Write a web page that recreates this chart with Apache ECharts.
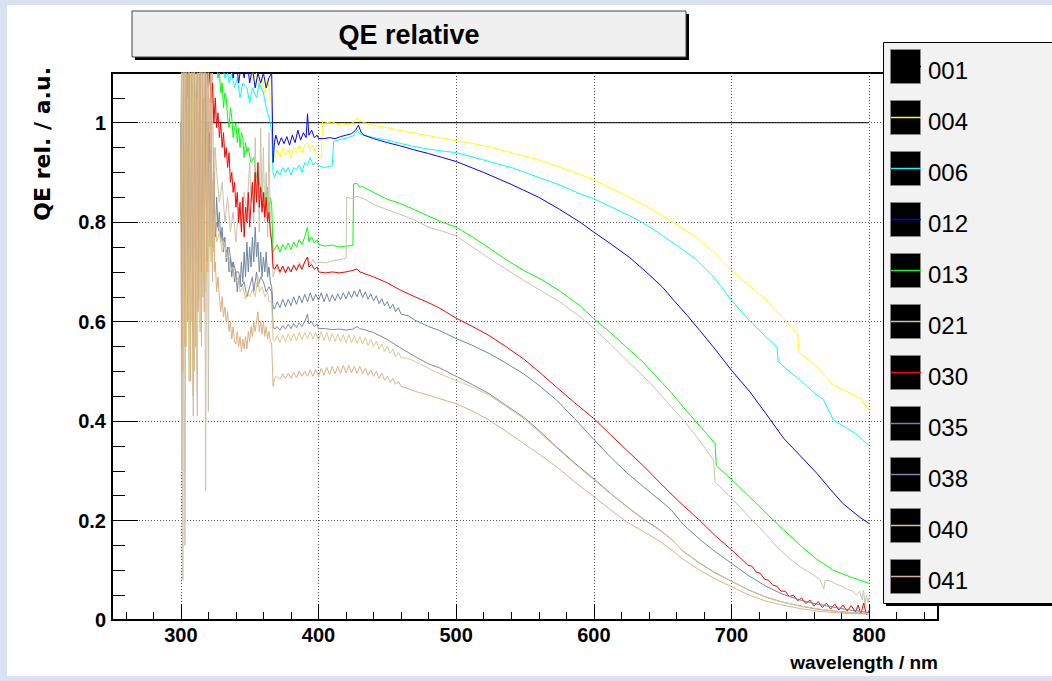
<!DOCTYPE html>
<html><head><meta charset="utf-8">
<script src="https://cdn.jsdelivr.net/npm/echarts@6/dist/echarts.min.js"></script>
<style>html,body{margin:0;padding:0;background:#fff}#c{width:1052px;height:681px}</style>
</head><body><div id="c"></div>
<script>
const FONT = "'Liberation Sans', Arial, sans-serif";
const titleText = 'QE relative';
const xAxisTitle = 'wavelength / nm';
const yAxisTitle = 'QE rel. / a.u.';
const seriesNames = ['001','004','006','012','013','021','030','035','038','040','041'];
const seriesColors = ['#000000','#ffff00','#00ffff','#0000ff','#00ff00','#c9c3ad','#ff0000','#6d86a0','#8483a6','#d4cb8e','#ddb083'];
const xMajorTicks = [300,400,500,600,700,800];
const xMinorTicks = [260,280,320,340,360,380,420,440,460,480,520,540,560,580,620,640,660,680,720,740,760,780,820,840];
const yMajorTicks = [0,0.2,0.4,0.6,0.8,1.0];
const yTickLabels = ['0','0.2','0.4','0.6','0.8','1'];
const yMinorTicks = [0.05,0.1,0.15,0.25,0.3,0.35,0.45,0.5,0.55,0.65,0.7,0.75,0.85,0.9,0.95,1.05];

const s001 = [[300,1],[800,1]];
const s004 = [[300,1.3],[303,1.2],[306,1.4],[309,1.25],[312,1.5],[315,1.3],[318,1.35],[321,1.2],[324,1.3],[327,1.18],[330,1.25],[333,1.15],[336,1.2],[339,1.14],[342,1.18],[345,1.12],[348,1.16],[351,1.12],[353,1.09],[355,1.1],[357,1.07],[359,1.09],[361,1.06],[363,1.09],[365,1.05],[366,1.04],[367,0.94],[368,0.93],[370,0.945],[372,0.93],[374,0.95],[376,0.935],[378,0.945],[380,0.93],[382,0.95],[384,0.94],[386,0.955],[388,0.94],[390,0.955],[392,0.96],[394,0.945],[396,0.955],[398,0.94],[400,0.935],[402,0.93],[403,1.004],[406,1.0],[410,1.002],[414,0.996],[418,0.998],[422,0.995],[426,1.002],[428,1.01],[430,1.005],[433,1.0],[440,0.995],[450,0.99],[460,0.984],[470,0.979],[480,0.974],[490,0.969],[500,0.964],[520,0.954],[540,0.94],[560,0.925],[575,0.911],[590,0.896],[600,0.885],[613,0.868],[626,0.85],[638,0.832],[650,0.813],[662,0.792],[674,0.77],[687,0.74],[700,0.703],[712,0.675],[723,0.649],[735,0.614],[745,0.585],[748,0.576],[749,0.54],[750,0.536],[756,0.523],[762,0.509],[768,0.49],[774,0.472],[780,0.464],[786,0.456],[790,0.45],[792,0.446],[794,0.448],[796,0.436],[800,0.422]];
const s006 = [[300,1.4],[303,1.3],[306,1.5],[309,1.3],[312,1.4],[315,1.25],[318,1.3],[321,1.2],[324,1.25],[327,1.15],[330,1.12],[332,1.09],[334,1.1],[335,1.08],[337,1.1],[339,1.07],[341,1.09],[343,1.05],[345,1.08],[348,1.07],[350,1.04],[352,1.07],[355,1.05],[357,1.08],[360,1.06],[362,1.03],[363,1.02],[365,1.0],[366,0.98],[367,0.9],[368,0.89],[370,0.905],[372,0.895],[374,0.91],[376,0.9],[378,0.91],[380,0.895],[382,0.91],[384,0.905],[386,0.915],[388,0.9],[390,0.92],[392,0.915],[394,0.93],[396,0.915],[398,0.92],[400,0.914],[404,0.91],[408,0.912],[410,0.914],[411,0.962],[414,0.965],[418,0.968],[422,0.97],[426,0.975],[428,0.985],[430,0.978],[433,0.975],[440,0.97],[450,0.965],[460,0.958],[470,0.952],[480,0.947],[490,0.943],[500,0.94],[520,0.925],[540,0.91],[560,0.89],[575,0.875],[590,0.857],[600,0.847],[613,0.83],[626,0.813],[638,0.795],[650,0.773],[662,0.75],[674,0.726],[687,0.69],[700,0.643],[713,0.602],[723,0.575],[733,0.549],[734,0.519],[742,0.5],[750,0.482],[758,0.462],[767,0.442],[770,0.425],[774,0.402],[780,0.392],[786,0.382],[790,0.375],[793,0.368],[796,0.36],[800,0.351]];
const s012 = [[300,1.5],[304,1.35],[308,1.5],[312,1.3],[316,1.45],[320,1.3],[324,1.4],[328,1.25],[332,1.2],[334,1.1],[336,1.15],[338,1.09],[340,1.13],[342,1.08],[344,1.12],[346,1.09],[348,1.13],[350,1.08],[352,1.11],[354,1.07],[356,1.1],[358,1.08],[360,1.1],[362,1.07],[364,1.09],[366,1.1],[366.5,1.1],[367,0.92],[368,0.96],[369,0.975],[371,0.955],[373,0.97],[375,0.958],[377,0.972],[379,0.955],[381,0.975],[383,0.96],[385,0.985],[387,0.965],[389,0.98],[391,0.97],[392,1.018],[393,0.975],[395,0.985],[397,0.97],[399,0.975],[400,0.968],[404,0.968],[408,0.97],[412,0.968],[416,0.972],[420,0.975],[424,0.978],[427,0.985],[429,0.995],[431,0.98],[433,0.975],[440,0.968],[450,0.96],[460,0.953],[470,0.945],[480,0.938],[490,0.93],[500,0.922],[520,0.9],[540,0.876],[560,0.85],[575,0.826],[590,0.8],[600,0.78],[613,0.755],[626,0.729],[638,0.7],[650,0.669],[658,0.643],[668,0.612],[677,0.582],[688,0.545],[700,0.502],[713,0.46],[725,0.415],[738,0.365],[750,0.33],[762,0.295],[772,0.262],[781,0.234],[793,0.207],[800,0.194]];
const s013 = [[300,1.4],[303,1.25],[306,1.45],[309,1.2],[312,1.35],[315,1.15],[318,1.3],[321,1.14],[324,1.2],[326,1.12],[327,1.09],[328,1.1],[329,1.06],[330,1.08],[331,1.03],[332,1.06],[333,1.05],[334,1.01],[335,0.99],[336,1.03],[337,1.01],[338,0.97],[339,0.99],[340,1.0],[341,0.96],[342,0.99],[343,0.95],[344,0.98],[345,0.97],[346,0.93],[347,0.96],[348,0.94],[349,0.95],[351,0.92],[353,0.93],[355,0.89],[357,0.88],[359,0.86],[360,0.83],[361,0.86],[362,0.84],[363,0.87],[364,0.82],[365,0.85],[366,0.835],[367,0.74],[368,0.745],[370,0.755],[372,0.74],[374,0.755],[376,0.745],[378,0.758],[380,0.745],[382,0.76],[384,0.75],[386,0.765],[388,0.755],[390,0.77],[392,0.79],[393,0.76],[395,0.77],[397,0.758],[399,0.765],[400,0.755],[405,0.752],[410,0.754],[415,0.75],[420,0.752],[425,0.753],[425.5,0.877],[428,0.878],[430,0.87],[432,0.872],[433,0.87],[440,0.86],[450,0.846],[459,0.838],[470,0.825],[480,0.812],[490,0.8],[500,0.79],[512,0.77],[524,0.748],[536,0.725],[549,0.703],[563,0.683],[575,0.662],[590,0.632],[600,0.606],[612,0.578],[624,0.548],[636,0.518],[641,0.502],[648,0.482],[656,0.458],[665,0.428],[677,0.39],[688,0.355],[689,0.31],[700,0.283],[713,0.248],[725,0.215],[738,0.181],[750,0.15],[762,0.122],[774,0.1],[786,0.087],[793,0.08],[800,0.074]];
const s021 = [[300,0.95],[300.5,0.3],[301,0.85],[301.5,0.08],[302,1.2],[302.5,0.45],[303,0.15],[304,1.1],[305,0.6],[306,1.2],[307,0.7],[308,1.15],[309,0.41],[310,1.2],[311,0.6],[312,0.41],[313,1.1],[314,0.7],[315,1.2],[316,0.65],[317,1.15],[318,0.26],[319,1.1],[320,0.42],[321,1.05],[322,0.75],[323,1.1],[324,0.8],[325,0.95],[326,0.9],[328,0.84],[330,0.88],[332,0.8],[334,0.85],[336,0.78],[338,0.82],[340,0.76],[342,0.83],[344,0.79],[346,0.86],[348,0.82],[350,0.92],[351,0.84],[352,0.88],[353,0.8],[354,0.97],[355,0.85],[356,0.9],[357,0.78],[358,0.99],[359,0.83],[360,0.95],[361,0.8],[362,0.9],[363,0.77],[364,0.98],[365,0.8],[366,0.76],[367,0.69],[368,0.7],[370,0.71],[372,0.695],[374,0.71],[376,0.7],[378,0.712],[380,0.7],[382,0.715],[384,0.705],[386,0.72],[388,0.71],[390,0.72],[392,0.73],[394,0.715],[396,0.725],[398,0.715],[400,0.72],[405,0.718],[410,0.722],[415,0.725],[420,0.727],[420.5,0.85],[424,0.848],[428,0.852],[433,0.847],[440,0.836],[450,0.825],[459,0.816],[470,0.804],[480,0.79],[490,0.782],[500,0.772],[512,0.75],[524,0.727],[536,0.706],[549,0.683],[563,0.66],[575,0.64],[590,0.61],[600,0.586],[612,0.555],[624,0.522],[636,0.49],[641,0.476],[648,0.455],[656,0.43],[665,0.402],[677,0.36],[687,0.321],[688,0.278],[700,0.245],[713,0.207],[725,0.172],[733,0.147],[741,0.126],[750,0.107],[755,0.098],[760,0.09],[764,0.082],[766,0.07],[767,0.062],[768,0.08],[772,0.078],[776,0.072],[780,0.068],[784,0.062],[788,0.058],[791,0.05],[793,0.058],[795,0.04],[796,0.06],[797,0.03],[798,0.05],[799,0.035],[800,0.045]];
const s030 = [[300,1.3],[302,1.15],[304,1.4],[306,1.2],[308,1.35],[310,1.12],[312,1.3],[314,1.15],[316,1.25],[318,1.1],[319,1.15],[320,1.07],[321,1.1],[322,1.04],[323,1.08],[324,1.0],[325,1.05],[326,0.99],[327,1.02],[328,0.97],[329,1.0],[330,0.95],[331,0.98],[332,0.93],[333,0.95],[334,0.91],[335,0.94],[336,0.88],[337,0.9],[338,0.86],[339,0.88],[340,0.83],[341,0.86],[342,0.8],[343,0.84],[344,0.78],[345,0.85],[346,0.77],[347,0.83],[348,0.8],[349,0.86],[350,0.79],[351,0.84],[352,0.88],[353,0.82],[354,0.9],[355,0.84],[356,0.92],[357,0.83],[358,0.87],[359,0.82],[360,0.86],[361,0.81],[362,0.85],[363,0.8],[364,0.82],[365,0.78],[366,0.76],[367,0.71],[368,0.705],[370,0.715],[372,0.7],[374,0.712],[376,0.698],[378,0.71],[380,0.7],[382,0.713],[384,0.703],[386,0.715],[388,0.705],[390,0.72],[392,0.73],[393,0.71],[395,0.715],[397,0.705],[399,0.71],[400,0.7],[405,0.698],[410,0.7],[415,0.698],[420,0.7],[425,0.703],[428,0.706],[430,0.7],[433,0.697],[440,0.69],[450,0.678],[459,0.664],[470,0.65],[480,0.638],[488,0.627],[500,0.607],[512,0.59],[524,0.572],[536,0.55],[549,0.525],[561,0.497],[573,0.468],[586,0.437],[600,0.405],[612,0.373],[624,0.341],[636,0.31],[648,0.276],[656,0.254],[665,0.23],[677,0.2],[688,0.17],[700,0.141],[706,0.126],[712,0.11],[715,0.108],[718,0.096],[721,0.094],[724,0.082],[727,0.08],[730,0.07],[733,0.068],[736,0.058],[739,0.058],[742,0.047],[745,0.05],[748,0.039],[751,0.044],[754,0.033],[757,0.04],[760,0.028],[763,0.037],[766,0.025],[769,0.034],[772,0.022],[775,0.032],[778,0.02],[781,0.03],[784,0.018],[787,0.029],[790,0.016],[792,0.03],[794,0.012],[796,0.034],[798,0.01],[800,0.02]];
const s035 = [[300,1.0],[300.5,0.75],[301,0.6],[301.5,0.95],[302,1.2],[302.5,0.85],[303,0.7],[303.5,1.05],[304,1.1],[304.5,0.78],[305,0.65],[305.5,1.0],[306,1.2],[306.5,0.9],[307,0.75],[307.5,1.1],[308,1.05],[308.5,0.7],[309,0.6],[309.5,0.95],[310,1.15],[310.5,0.88],[311,0.8],[311.5,1.05],[312,1.1],[312.5,0.8],[313,0.7],[313.5,1.0],[314,1.2],[314.5,0.9],[315,0.75],[315.5,0.98],[316,1.05],[316.5,0.85],[317,0.8],[317.5,1.0],[318,1.1],[318.5,0.85],[319,0.78],[319.5,0.92],[320,1.0],[320.5,0.86],[321,0.82],[321.5,0.9],[322,0.95],[322.5,0.84],[323,0.8],[323.5,0.88],[324,0.9],[324.5,0.8],[325,0.78],[326,0.85],[327,0.79],[328,0.82],[329,0.76],[330,0.79],[331,0.74],[332,0.77],[333,0.72],[334,0.75],[335,0.7],[336,0.73],[337,0.69],[338,0.72],[339,0.68],[340,0.7],[341,0.66],[342,0.69],[343,0.67],[344,0.72],[345,0.68],[346,0.74],[347,0.69],[348,0.76],[349,0.7],[350,0.75],[351,0.71],[352,0.77],[353,0.72],[354,0.79],[355,0.73],[356,0.76],[357,0.7],[358,0.74],[359,0.69],[360,0.73],[361,0.7],[362,0.74],[363,0.69],[364,0.71],[365,0.68],[366,0.67],[367,0.63],[368,0.625],[370,0.64],[372,0.628],[374,0.645],[376,0.63],[378,0.645],[380,0.632],[382,0.65],[384,0.635],[386,0.652],[388,0.638],[390,0.655],[392,0.64],[394,0.658],[396,0.642],[398,0.655],[400,0.643],[402,0.658],[404,0.64],[406,0.656],[408,0.64],[410,0.654],[412,0.642],[414,0.656],[416,0.644],[418,0.658],[420,0.646],[422,0.66],[424,0.648],[426,0.662],[428,0.65],[430,0.665],[432,0.648],[434,0.66],[436,0.645],[438,0.656],[440,0.642],[442,0.652],[444,0.636],[446,0.646],[448,0.632],[450,0.64],[452,0.626],[454,0.635],[456,0.62],[458,0.628],[460,0.615],[465,0.612],[470,0.603],[480,0.59],[488,0.582],[500,0.566],[512,0.552],[524,0.536],[536,0.517],[549,0.495],[561,0.47],[573,0.442],[586,0.405],[600,0.363],[612,0.328],[624,0.296],[636,0.268],[648,0.241],[656,0.222],[665,0.192],[677,0.162],[688,0.138],[700,0.114],[712,0.09],[725,0.068],[737,0.052],[750,0.04],[762,0.032],[774,0.026],[786,0.02],[800,0.015]];
const s038 = [[300,0.9],[300.5,1.1],[301,0.55],[301.5,0.8],[302,1.15],[302.5,0.9],[303,0.65],[303.5,0.85],[304,1.0],[304.5,1.12],[305,0.6],[305.5,0.82],[306,1.1],[306.5,0.95],[307,0.7],[307.5,0.88],[308,0.95],[308.5,1.08],[309,0.58],[309.5,0.8],[310,1.05],[310.5,0.9],[311,0.72],[311.5,0.86],[312,1.0],[312.5,1.1],[313,0.65],[313.5,0.82],[314,1.1],[314.5,0.92],[315,0.7],[315.5,0.85],[316,0.98],[316.5,1.05],[317,0.75],[317.5,0.86],[318,1.0],[318.5,0.9],[319,0.72],[319.5,0.84],[320,0.92],[320.5,0.98],[321,0.76],[321.5,0.84],[322,0.9],[322.5,0.86],[323,0.75],[323.5,0.8],[324,0.85],[324.5,0.82],[325,0.77],[326,0.8],[328,0.78],[330,0.77],[332,0.76],[333,0.74],[335,0.75],[337,0.71],[338,0.72],[340,0.7],[342,0.7],[344,0.67],[346,0.68],[348,0.65],[350,0.67],[352,0.69],[353,0.66],[355,0.7],[356,0.67],[358,0.69],[360,0.68],[362,0.66],[364,0.67],[366,0.66],[367,0.59],[368,0.585],[370,0.59],[372,0.583],[374,0.592],[376,0.585],[378,0.595],[380,0.586],[382,0.596],[384,0.588],[386,0.598],[388,0.59],[390,0.6],[392,0.615],[393,0.595],[395,0.6],[397,0.59],[399,0.595],[400,0.586],[405,0.586],[410,0.584],[415,0.585],[420,0.583],[425,0.585],[428,0.59],[430,0.586],[433,0.584],[440,0.578],[450,0.564],[459,0.548],[470,0.53],[480,0.515],[488,0.507],[500,0.49],[512,0.473],[524,0.455],[536,0.432],[549,0.408],[561,0.379],[573,0.348],[586,0.316],[600,0.284],[612,0.255],[624,0.228],[636,0.203],[648,0.181],[656,0.163],[665,0.138],[677,0.114],[688,0.095],[700,0.078],[712,0.061],[725,0.046],[737,0.036],[750,0.028],[762,0.022],[774,0.018],[786,0.015],[800,0.013]];
const s040 = [[300,0.8],[300.5,1.15],[301,1.1],[301.5,0.65],[302,0.5],[302.5,0.9],[303,1.2],[303.5,0.75],[304,0.55],[304.5,1.0],[305,1.05],[305.5,0.62],[306,0.48],[306.5,0.85],[307,1.1],[307.5,0.7],[308,0.6],[308.5,1.05],[309,1.15],[309.5,0.66],[310,0.5],[310.5,0.9],[311,1.05],[311.5,0.72],[312,0.62],[312.5,1.0],[313,1.1],[313.5,0.7],[314,0.58],[314.5,0.92],[315,1.0],[315.5,0.75],[316,0.68],[316.5,0.98],[317,1.05],[317.5,0.72],[318,0.66],[318.5,0.9],[319,0.98],[319.5,0.74],[320,0.7],[320.5,0.88],[321,0.92],[321.5,0.75],[322,0.72],[322.5,0.85],[323,0.88],[323.5,0.76],[324,0.74],[324.5,0.8],[325,0.82],[326,0.76],[328,0.78],[330,0.74],[332,0.76],[333,0.73],[335,0.72],[336,0.7],[338,0.71],[340,0.68],[342,0.69],[343,0.66],[345,0.67],[347,0.645],[348,0.66],[350,0.65],[352,0.665],[354,0.65],[356,0.69],[357,0.66],[359,0.67],[361,0.65],[363,0.66],[364,0.64],[366,0.64],[367,0.565],[368,0.56],[370,0.572],[372,0.558],[374,0.573],[376,0.56],[378,0.575],[380,0.562],[382,0.576],[384,0.562],[386,0.578],[388,0.564],[390,0.578],[392,0.566],[394,0.58],[396,0.565],[398,0.578],[400,0.562],[402,0.58],[404,0.562],[406,0.578],[408,0.56],[410,0.576],[412,0.56],[414,0.575],[416,0.56],[418,0.574],[420,0.558],[422,0.574],[424,0.558],[426,0.572],[428,0.556],[430,0.57],[432,0.555],[434,0.568],[436,0.552],[438,0.565],[440,0.55],[442,0.56],[444,0.545],[446,0.555],[448,0.54],[450,0.55],[452,0.536],[454,0.545],[456,0.53],[458,0.538],[460,0.528],[465,0.526],[470,0.52],[480,0.506],[488,0.495],[500,0.482],[512,0.468],[524,0.452],[536,0.43],[549,0.405],[561,0.376],[573,0.346],[586,0.314],[600,0.282],[612,0.254],[624,0.227],[636,0.202],[648,0.18],[656,0.164],[665,0.137],[677,0.115],[688,0.096],[700,0.078],[712,0.061],[725,0.046],[737,0.036],[750,0.028],[762,0.023],[774,0.018],[786,0.015],[800,0.013]];
const s041 = [[300,0.95],[300.5,0.62],[301,0.5],[301.5,0.9],[302,1.2],[302.5,0.7],[303,0.55],[303.5,1.05],[304,1.3],[304.5,0.8],[305,0.6],[305.5,1.1],[306,1.2],[306.5,0.75],[307,0.48],[307.5,0.95],[308,1.1],[308.5,0.6],[309,0.45],[309.5,0.85],[310,1.25],[310.5,0.7],[311,0.55],[311.5,1.0],[312,1.15],[312.5,0.62],[313,0.7],[313.5,1.1],[314,1.3],[314.5,0.75],[315,0.55],[315.5,0.95],[316,1.2],[316.5,0.8],[317,0.62],[317.5,1.05],[318,1.25],[318.5,0.85],[319,0.7],[319.5,1.0],[320,1.15],[320.5,0.8],[321,0.75],[321.5,0.98],[322,1.1],[322.5,0.78],[323,0.68],[323.5,0.88],[324,0.95],[324.5,0.7],[325,0.72],[326,0.66],[327,0.69],[328,0.65],[329,0.62],[330,0.65],[331,0.61],[332,0.63],[333,0.6],[334,0.62],[335,0.58],[336,0.6],[337,0.565],[338,0.59],[339,0.56],[340,0.555],[341,0.58],[342,0.55],[343,0.57],[344,0.54],[345,0.565],[346,0.545],[347,0.57],[348,0.545],[349,0.58],[350,0.56],[351,0.59],[352,0.57],[353,0.6],[354,0.58],[355,0.6],[356,0.62],[357,0.58],[358,0.6],[359,0.575],[360,0.6],[361,0.57],[362,0.59],[363,0.565],[364,0.58],[365,0.56],[366,0.555],[367,0.47],[368,0.485],[370,0.49],[372,0.484],[374,0.495],[376,0.485],[378,0.496],[380,0.486],[382,0.498],[384,0.487],[386,0.5],[388,0.49],[390,0.5],[392,0.49],[394,0.503],[396,0.49],[398,0.504],[400,0.49],[402,0.506],[404,0.492],[406,0.508],[408,0.494],[410,0.51],[412,0.495],[414,0.51],[416,0.496],[418,0.512],[420,0.497],[422,0.512],[424,0.497],[426,0.51],[428,0.496],[430,0.51],[432,0.495],[434,0.506],[436,0.492],[438,0.503],[440,0.49],[442,0.5],[444,0.486],[446,0.496],[448,0.482],[450,0.49],[452,0.478],[454,0.486],[456,0.474],[458,0.48],[460,0.47],[465,0.465],[470,0.46],[480,0.452],[488,0.445],[500,0.435],[512,0.42],[524,0.402],[536,0.38],[549,0.355],[561,0.332],[573,0.308],[586,0.278],[600,0.248],[612,0.222],[624,0.197],[636,0.178],[648,0.158],[656,0.142],[665,0.122],[677,0.1],[688,0.083],[700,0.067],[712,0.051],[725,0.038],[737,0.03],[750,0.023],[762,0.018],[774,0.015],[786,0.013],[800,0.012]];
const seriesData = [s001,s004,s006,s012,s013,s021,s030,s035,s038,s040,s041];

const chart = echarts.init(document.getElementById('c'), null, {renderer:'svg', width:1052, height:681});

const graphic = [
  {type:'rect', z:-20, silent:true, shape:{x:0,y:0,width:1052,height:681}, style:{fill:'#d8e2f0'}},
  {type:'rect', z:-19, silent:true, shape:{x:7,y:5,width:1045,height:671}, style:{fill:'#ffffff'}},
  {type:'rect', z:5, silent:true, shape:{x:135,y:14,width:554,height:46}, style:{fill:'#000'}},
  {type:'rect', z:5, silent:true, shape:{x:132,y:11,width:554,height:46}, style:{fill:'#f0f0f0', stroke:'#444', lineWidth:1}},
  {type:'rect', z:5, silent:true, shape:{x:886,y:45,width:170,height:561}, style:{fill:'#000'}},
  {type:'rect', z:5, silent:true, shape:{x:883.5,y:42.5,width:170,height:561}, style:{fill:'#f2f2f2', stroke:'#000', lineWidth:1}},
  {type:'text', z:6, silent:true, x:938, y:662, style:{text:xAxisTitle, align:'right', verticalAlign:'middle', font:"bold 19px " + FONT, fill:'#000'}},
  {type:'text', z:6, silent:true, x:42, y:67, rotation:Math.PI/2, style:{text:yAxisTitle, align:'right', verticalAlign:'middle', font:"bold 22px 'DejaVu Sans', sans-serif", fill:'#000'}}
];
seriesNames.forEach((n, i) => {
  const y0 = 49 + 51 * i;
  graphic.push({type:'rect', z:6, silent:true, shape:{x:890.5,y:y0+0.5,width:30,height:34}, style:{fill:'#000', stroke:'#888', lineWidth:1}});
  graphic.push({type:'line', z:7, silent:true, shape:{x1:891,y1:y0+17.5,x2:921,y2:y0+17.5}, style:{stroke:seriesColors[i], lineWidth:1.5}});
  graphic.push({type:'text', z:7, silent:true, x:928, y:y0+21, style:{text:n, align:'left', verticalAlign:'middle', font:"24px " + FONT, fill:'#000'}});
});

const option = {
  animation: false,
  backgroundColor: 'transparent',
  title: {text: titleText, left: 409, top: 35, textAlign:'center', textVerticalAlign:'middle', padding:0, z:10,
    textStyle:{fontFamily:FONT, fontWeight:'bold', fontSize:27, color:'#000'}},
  grid: {left:112, top:73, width:826, height:547, show:true, backgroundColor:'#fff', borderColor:'#000', borderWidth:2, containLabel:false},
  xAxis: [
    {type:'value', min:250, max:850, position:'bottom',
     axisLine:{show:true, onZero:false, lineStyle:{color:'#000', width:2}},
     axisTick:{show:true, inside:true, length:16, customValues:xMajorTicks, lineStyle:{color:'#000', width:1}},
     axisLabel:{show:true, customValues:xMajorTicks, margin:5, color:'#000', fontFamily:FONT, fontWeight:'bold', fontSize:20},
     splitLine:{show:true, lineStyle:{color:'#555', width:1, type:[1,2]}},
     minorTick:{show:false}},
    {type:'value', min:250, max:850, position:'bottom', gridIndex:0,
     axisLine:{show:false}, axisLabel:{show:false}, splitLine:{show:false},
     axisTick:{show:true, inside:true, length:8, customValues:xMinorTicks, lineStyle:{color:'#000', width:1}}}
  ],
  yAxis: [
    {type:'value', min:0, max:1.1, position:'left',
     axisLine:{show:true, onZero:false, lineStyle:{color:'#000', width:2}},
     axisTick:{show:true, inside:true, length:26, customValues:yMajorTicks, lineStyle:{color:'#000', width:1}},
     axisLabel:{show:true, customValues:yMajorTicks, margin:6, color:'#000', fontFamily:FONT, fontWeight:'bold', fontSize:20,
       formatter:(v) => { const k = yMajorTicks.findIndex(t => Math.abs(t - v) < 1e-9); return k >= 0 ? yTickLabels[k] : ''; }},
     splitLine:{show:true, lineStyle:{color:'#555', width:1, type:[1,2]}}},
    {type:'value', min:0, max:1.1, position:'left', gridIndex:0,
     axisLine:{show:false}, axisLabel:{show:false}, splitLine:{show:false},
     axisTick:{show:true, inside:true, length:13, customValues:yMinorTicks, lineStyle:{color:'#000', width:1}}}
  ],
  graphic: graphic,
  series: seriesNames.map((n, i) => ({
    name: n, type:'line', xAxisIndex:0, yAxisIndex:0, data: seriesData[i],
    showSymbol:false, symbol:'none', silent:true, clip:true, z: 2,
    lineStyle:{color: seriesColors[i], width:1},
    emphasis:{disabled:true}
  }))
};
chart.setOption(option);
</script>
</body></html>
